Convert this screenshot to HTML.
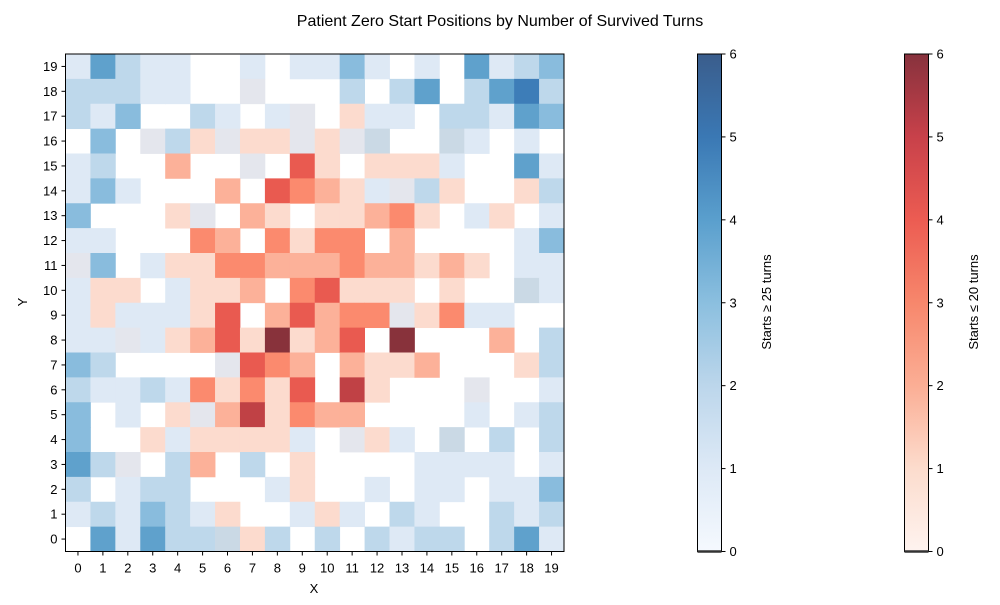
<!DOCTYPE html>
<html><head><meta charset="utf-8"><style>
body{margin:0;background:#fff;}
svg text{font-family:"Liberation Sans","DejaVu Sans",sans-serif;fill:#000;}
</style></head><body>
<svg id="chart" width="1000" height="600" xmlns="http://www.w3.org/2000/svg">
<defs>
<linearGradient id="gb" x1="0" y1="1" x2="0" y2="0">
<stop offset="0" stop-color="#f5f9fe"/><stop offset="0.1667" stop-color="#dde9f6"/><stop offset="0.3333" stop-color="#bcd6eb"/><stop offset="0.5" stop-color="#8bbfdf"/><stop offset="0.6667" stop-color="#5a9fcd"/><stop offset="0.8333" stop-color="#3a78b4"/><stop offset="1" stop-color="#3a5d8c"/>
</linearGradient>
<linearGradient id="gr" x1="0" y1="1" x2="0" y2="0">
<stop offset="0" stop-color="#fef3ef"/><stop offset="0.1667" stop-color="#fcdccd"/><stop offset="0.3333" stop-color="#fbae95"/><stop offset="0.5" stop-color="#f7876c"/><stop offset="0.6667" stop-color="#ec5c52"/><stop offset="0.8333" stop-color="#c8414a"/><stop offset="1" stop-color="#87323d"/>
</linearGradient>
</defs>
<text x="500" y="26" font-size="16" text-anchor="middle">Patient Zero Start Positions by Number of Survived Turns</text>
<g id="cells"></g>
<g id="axes"></g>
</svg>
<script>
// rows listed from y=19 (top) to y=0 (bottom); columns x=0..19
const xCategories = [0,1,2,3,4,5,6,7,8,9,10,11,12,13,14,15,16,17,18,19];
const yCategories = [19,18,17,16,15,14,13,12,11,10,9,8,7,6,5,4,3,2,1,0];
const blueRows = [
"14211001011310104123",
"22211001000202402452",
"21300210110011022143",
"03012010010120021010",
"12000001000000010041",
"13100000000011200002",
"30000100000000001001",
"11000000000000000013",
"13010000000000000011",
"10001000000000000021",
"10111000000001001100",
"11110000000000000002",
"32000010000000000002",
"21121000000000001001",
"30100100000000001012",
"30001000010101020202",
"42102002000000111101",
"20122000100010110113",
"12132100010102100212",
"04142220202021220241"
];
const redRows = [
"00000000000000000000",
"00000001000000000000",
"00000000010100000000",
"00010111111110010000",
"00002001041011100000",
"00000020432101010010",
"00001102101123100100",
"00000320313302000000",
"10001133222322121000",
"01100112034111010010",
"01000140242331130000",
"00101241612406000200",
"00000014320211200010",
"00000313140510001000",
"00001125132200000000",
"00010111100110010000",
"00100200010000000000",
"00000000010000000000",
"00000010001000000000",
"00000011000000000000"
];
const cbTicks = [0,1,2,3,4,5,6];

const blueCol = ["#ffffff","#dee9f5","#bed8eb","#89bcdd","#5fa1cc","#3d7db8","#2f5e96"];
const redCol  = ["#ffffff","#fcdbce","#fcb199","#fb8a6e","#e95a50","#c04145","#88323b"];
const NS="http://www.w3.org/2000/svg";
const L=65.5,R=564,T=54,B=551.5;
const cw=(R-L)/20, ch=(B-T)/20;
const xPos=i=>L+i*cw, yPos=j=>T+j*ch;
function hex(c){return [parseInt(c.substr(1,2),16),parseInt(c.substr(3,2),16),parseInt(c.substr(5,2),16)];}
function mix(a,b,t){const A=hex(a),B2=hex(b);return "rgb("+A.map((v,i)=>Math.round(v*t+B2[i]*(1-t))).join(",")+")";}
function mk(tag,attrs,parent){const e=document.createElementNS(NS,tag);for(const k in attrs)e.setAttribute(k,attrs[k]);parent.appendChild(e);return e;}
const cells=document.getElementById('cells');
for(let j=0;j<yCategories.length;j++){
  for(let i=0;i<xCategories.length;i++){
    const b=+blueRows[j][i], r=+redRows[j][i];
    if(!b&&!r) continue;
    let fill;
    if(b&&r) fill=mix(blueCol[b],redCol[r],0.8);
    else if(b) fill=blueCol[b]; else fill=redCol[r];
    const rc=mk('rect',{x:xPos(i),y:yPos(j),width:cw+0.4,height:ch+0.4,fill:fill},cells);
    
    
  }
}
const ax=document.getElementById('axes');
const frame=mk('rect',{x:L,y:T,width:R-L,height:B-T,fill:'none',stroke:'#000','stroke-width':1},ax);


xCategories.forEach((v,i)=>{
  const x=xPos(i)+cw/2;
  mk('line',{x1:x,x2:x,y1:B,y2:B+4,stroke:'#000'},ax);
  const t=mk('text',{x:x,y:B+21,'font-size':13,'text-anchor':'middle'},ax);t.textContent=v;
  
  
});
yCategories.forEach((v,j)=>{
  const y=yPos(j)+ch/2;
  mk('line',{x1:L-4,x2:L,y1:y,y2:y,stroke:'#000'},ax);
  const t=mk('text',{x:L-8,y:y+4.5,'font-size':13,'text-anchor':'end'},ax);t.textContent=v;
  
  
});
let t=mk('text',{x:314,y:593,'font-size':13,'text-anchor':'middle'},ax);t.textContent='X';


t=mk('text',{x:27,y:302,'font-size':13,'text-anchor':'middle',transform:'rotate(-90 27 302)'},ax);t.textContent='Y';


function colorbar(x,grad,label,lx,name){
  const g=mk('g',{},ax);
  
  
  mk('rect',{x:x,y:T,width:24,height:B-T,fill:'url(#'+grad+')',stroke:'#000','stroke-width':1},g);
  mk('line',{x1:x,x2:x+24,y1:B,y2:B,stroke:'#333','stroke-width':2.5},g);
  cbTicks.forEach(v=>{
    const y=B-(v/6)*(B-T);
    mk('line',{x1:x+24,x2:x+28,y1:y,y2:y,stroke:'#000'},g);
    const tt=mk('text',{x:x+32,y:y+4.5,'font-size':13},g);tt.textContent=v;
    
    
  });
  const lt=mk('text',{x:lx,y:302,'font-size':13,'text-anchor':'middle',transform:'rotate(-90 '+lx+' 302)'},g);lt.textContent=label;
  
  
}
colorbar(697.5,'gb','Starts ≥ 25 turns',771,'colorbar-blue');
colorbar(904.5,'gr','Starts ≤ 20 turns',978,'colorbar-red');
</script>
</body></html>
